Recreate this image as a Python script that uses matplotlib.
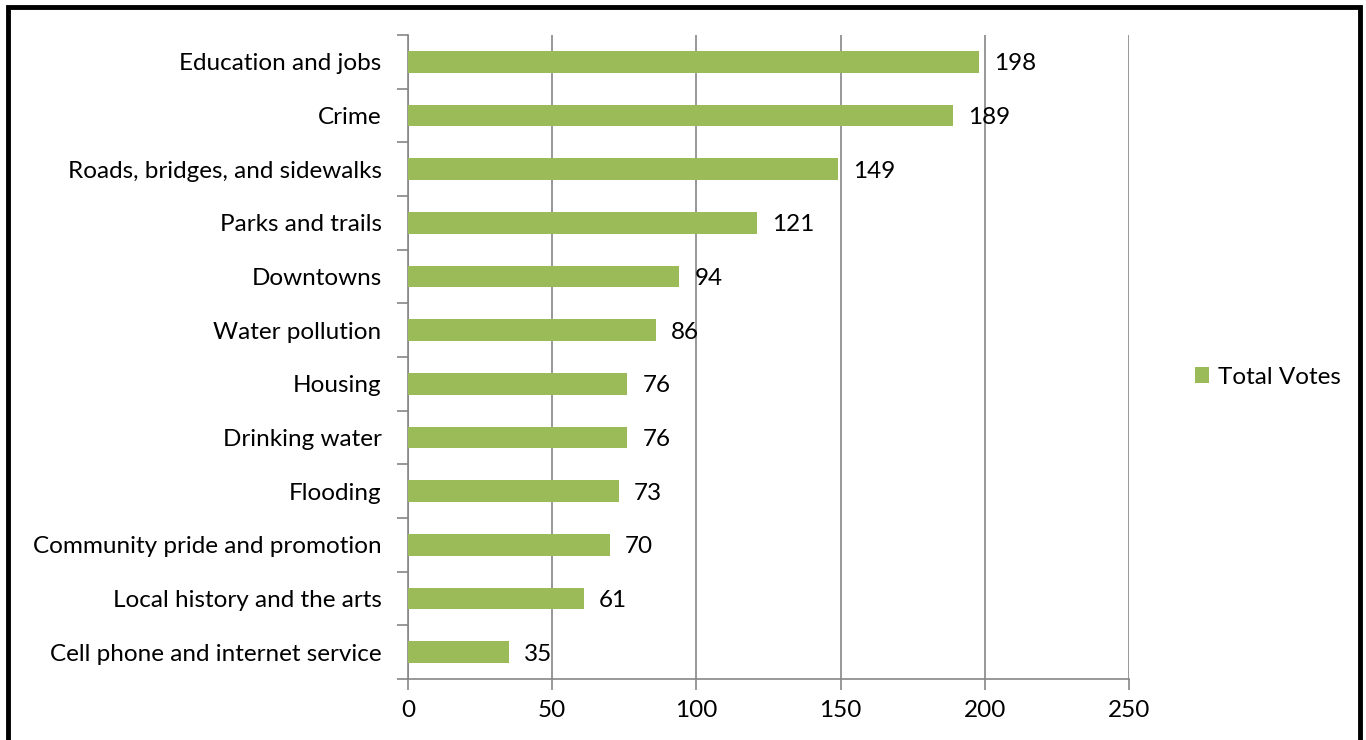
import matplotlib
matplotlib.use("Agg")
import matplotlib.pyplot as plt
from matplotlib.patches import Rectangle
from matplotlib.ticker import FixedLocator
import numpy as np

categories = ["Education and jobs", "Crime", "Roads, bridges, and sidewalks",
              "Parks and trails", "Downtowns", "Water pollution", "Housing",
              "Drinking water", "Flooding", "Community pride and promotion",
              "Local history and the arts", "Cell phone and internet service"]
votes = [198, 189, 149, 121, 94, 86, 76, 76, 73, 70, 61, 35]
series_name = "Total Votes"
x_ticks = [0, 50, 100, 150, 200, 250]

plt.rcParams['font.family'] = ['Lato', 'DejaVu Sans']
FS = 17.5
GREEN = "#9bbb59"
GRAY = "#868686"

fig = plt.figure(figsize=(13.66, 7.4), dpi=100)
W, H = 1366, 740
ax = fig.add_axes([408 / W, 1 - 679 / H, (1129 - 408) / W, (679 - 35) / H])

n = len(categories)
ypos = np.arange(n)
ax.barh(ypos, votes, height=0.4, color=GREEN, zorder=3, label=series_name)
ax.set_ylim(n - 0.5, -0.5)
ax.set_xlim(0, 250)
ax.set_xticks(x_ticks)
ax.set_xticklabels([str(t) for t in x_ticks], fontsize=FS)
ax.set_yticks(ypos)
ax.set_yticklabels(categories, fontsize=FS)
ax.tick_params(axis='y', which='major', length=0, pad=19)
ax.yaxis.set_minor_locator(FixedLocator(np.arange(-0.5, n, 1.0)))
ax.tick_params(axis='y', which='minor', length=8, width=1.2, color=GRAY, direction='out')
ax.tick_params(axis='x', which='major', length=8, width=1.2, color=GRAY, direction='out', pad=7)

ax.grid(axis='x', color=GRAY, linewidth=1.2, zorder=0)
for s in ['top', 'right']:
    ax.spines[s].set_visible(False)
for s in ['left', 'bottom']:
    ax.spines[s].set_color(GRAY)
    ax.spines[s].set_linewidth(1.2)

for y, v in zip(ypos, votes):
    ax.annotate(str(v), (v, y), xytext=(11, -1.5), textcoords='offset points',
                va='center', ha='left', fontsize=FS, zorder=4)

leg = fig.legend(loc='center left', bbox_to_anchor=(1173 / W, 1 - 377 / H),
                 frameon=False, fontsize=FS, handlelength=0.6, handleheight=0.6,
                 handletextpad=0.35)

fig.patches.append(Rectangle((7.5 / W, -0.1), (1360 - 7.5) / W, 1 + 0.1 - 7 / H,
                             transform=fig.transFigure, fill=False,
                             edgecolor='black', linewidth=3.5))

fig.savefig("out.png", dpi=100)
